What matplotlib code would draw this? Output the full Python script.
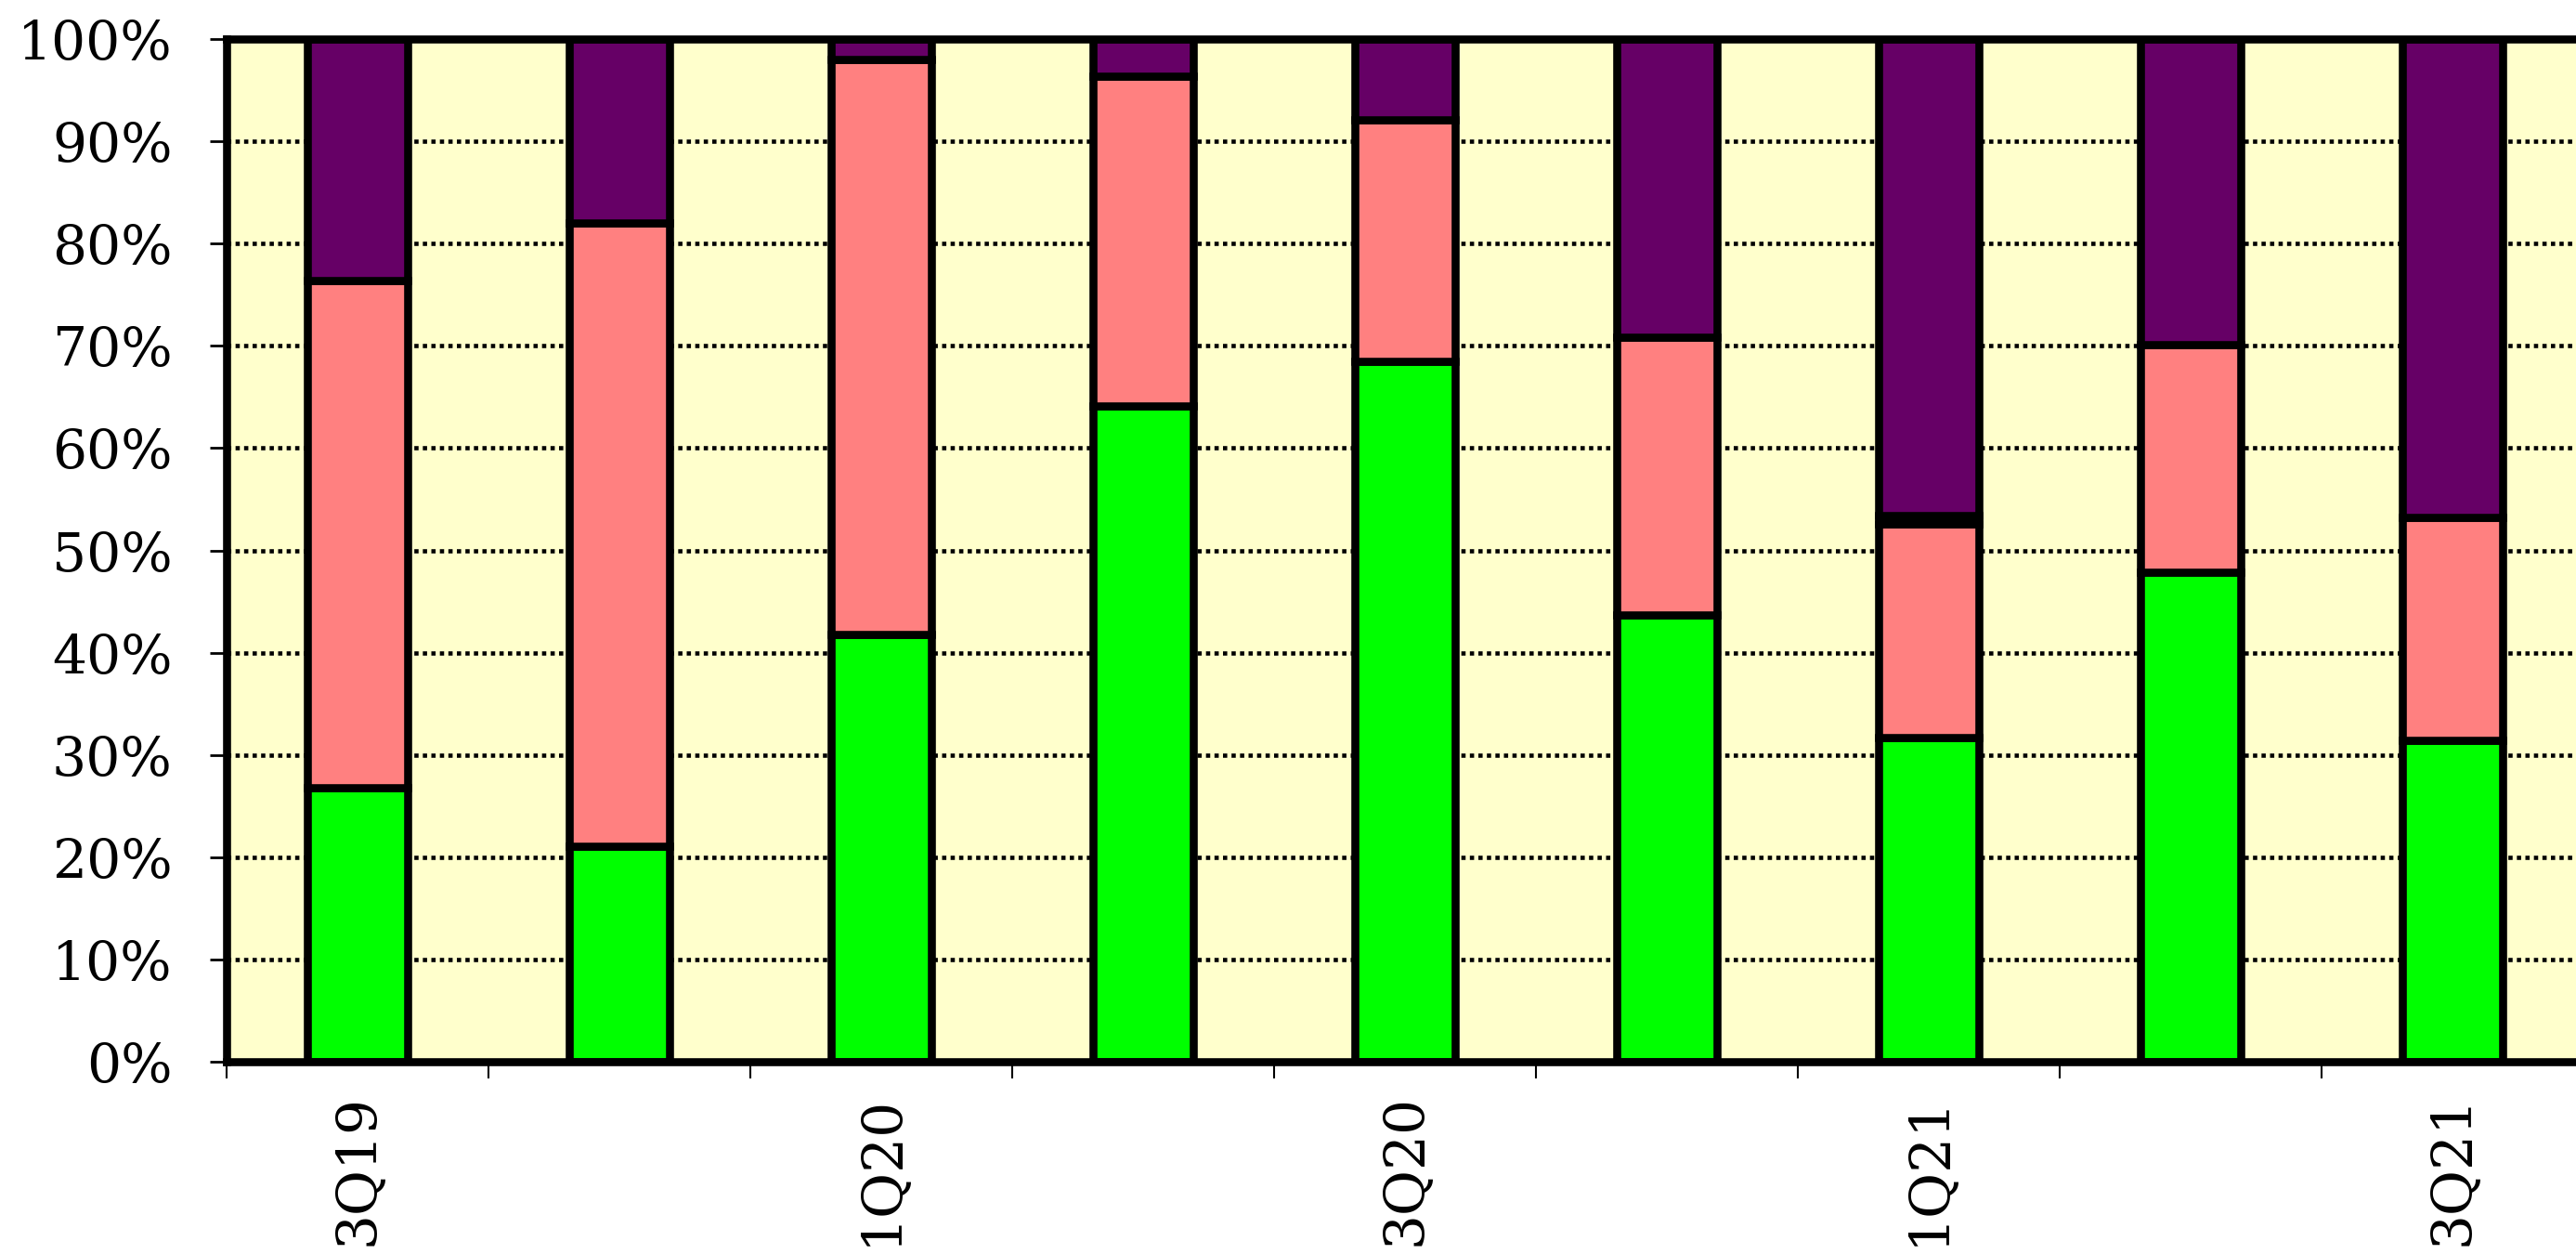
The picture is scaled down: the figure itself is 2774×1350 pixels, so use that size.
import matplotlib
matplotlib.use("Agg")
import matplotlib.pyplot as plt
import numpy as np

# quarters shown on the x axis (only every other one gets a label)
quarters = ["3Q19", "4Q19", "1Q20", "2Q20", "3Q20", "4Q20", "1Q21", "2Q21", "3Q21"]

# stacked shares in percent, bottom to top
green_share = [26.8, 21.1, 41.8, 64.1, 68.5, 43.7, 31.7, 47.9, 31.4]
salmon_share = [49.6, 60.9, 56.2, 32.3, 23.6, 27.1, 20.9, 22.2, 21.8]
black_share = [0.0, 0.0, 0.0, 0.0, 0.0, 0.0, 0.8, 0.0, 0.0]
purple_share = [23.6, 18.0, 2.0, 3.6, 7.9, 29.2, 46.6, 29.9, 46.8]

W, H = 2774, 1350
fig = plt.figure(figsize=(W / 100, H / 100), dpi=100)
ax = fig.add_axes([244 / W, (H - 1143) / H, (2782 - 244) / W, (1143 - 42) / H])
ax.set_facecolor("#FFFFCC")

x = np.arange(len(quarters))
series = [
    (green_share, "#00FF00"),
    (salmon_share, "#FF8080"),
    (black_share, "#000000"),
    (purple_share, "#660066"),
]
bottom = np.zeros(len(quarters))
for vals, col in series:
    vals = np.array(vals)
    mask = vals > 0
    ax.bar(x[mask], vals[mask], bottom=bottom[mask], width=0.385,
           color=col, edgecolor="black", linewidth=6.2, zorder=3)
    bottom += vals

ax.set_xlim(-0.5, len(quarters) - 0.5)
ax.set_ylim(0, 100)

# --- y axis ---
ax.set_yticks(np.arange(0, 101, 10))
ax.set_yticklabels([f"{v}%" for v in range(0, 101, 10)])
ax.yaxis.grid(True, color="black", linestyle=(0, (1, 1)), linewidth=3.3)
ax.set_axisbelow(True)
ax.tick_params(axis="y", direction="out", length=13, width=2, pad=29,
               labelsize=42)

# --- x axis: labels at centres, ticks at boundaries ---
ax.set_xticks(x)
ax.set_xticklabels([q if i % 2 == 0 else "" for i, q in enumerate(quarters)],
                   rotation=90, va="top", ha="center")
ax.tick_params(axis="x", which="major", length=0, pad=25, labelsize=43)
ax.set_xticks(np.arange(-0.5, len(quarters), 1), minor=True)
ax.tick_params(axis="x", which="minor", direction="out", length=13, width=1.5)

for lab in ax.get_xticklabels() + ax.get_yticklabels():
    lab.set_fontfamily("DejaVu Serif")

for side in ["left", "bottom", "top"]:
    ax.spines[side].set_linewidth(6.2)
    ax.spines[side].set_color("black")
    ax.spines[side].set_zorder(4)
ax.spines["right"].set_visible(False)

fig.savefig("out.png", dpi=100)
